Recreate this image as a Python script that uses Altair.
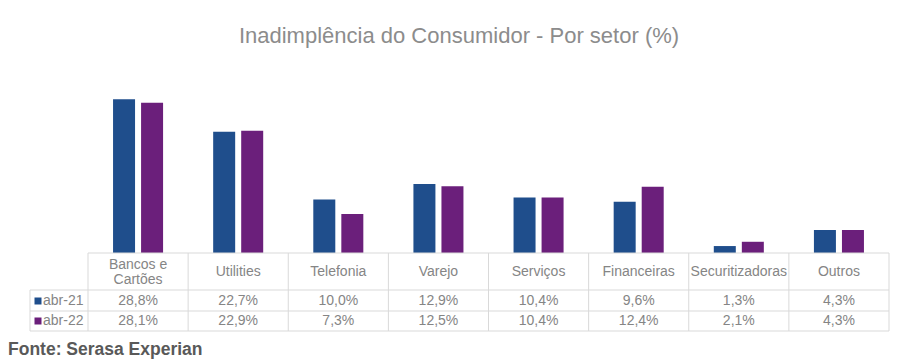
import altair as alt
import pandas as pd

categories = ["Bancos e Cartões", "Utilities", "Telefonia", "Varejo", "Serviços",
              "Financeiras", "Securitizadoras", "Outros"]
header_labels = [["Bancos e", "Cartões"], ["Utilities"], ["Telefonia"], ["Varejo"], ["Serviços"],
                 ["Financeiras"], ["Securitizadoras"], ["Outros"]]
series = ["abr-21", "abr-22"]
abr21 = [28.8, 22.7, 10.0, 12.9, 10.4, 9.6, 1.3, 4.3]
abr22 = [28.1, 22.9, 7.3, 12.5, 10.4, 12.4, 2.1, 4.3]
colors = ["#1F4E8C", "#6B1F7B"]

rows = []
for s, vals in zip(series, [abr21, abr22]):
    for c, v in zip(categories, vals):
        rows.append({"cat": c, "serie": s, "v": v,
                     "label": f"{v:.1f}".replace(".", ",") + "%"})
df = pd.DataFrame(rows)
hdr = pd.DataFrame({"cat": categories, "lab": header_labels,
                    "n": [len(h) for h in header_labels]})
ser = pd.DataFrame({"serie": series})

W, H = 888, 351
X0, X1 = 80, 881
base_y = 245
xscale = alt.Scale(domain=categories, range=[X0, X1], paddingInner=0, paddingOuter=0)
xenc = alt.X("cat:N", scale=xscale, axis=None, sort=categories)
cscale = alt.Scale(domain=series, range=colors)
FONT = "Liberation Sans"
GRAY = "#858585"
LINE = "#D9D9D9"
FS = 14

bars = alt.Chart(df).mark_bar(size=22).encode(
    x=xenc,
    xOffset=alt.XOffset("serie:N", sort=series,
                        scale=alt.Scale(paddingInner=0.214, paddingOuter=0.893)),
    y=alt.Y("v:Q", scale=alt.Scale(domain=[0, 35], range=[base_y, 58]), axis=None),
    color=alt.Color("serie:N", scale=cscale, legend=None),
)

# table grid
vlines = alt.Chart(hdr).mark_rule(color=LINE, strokeWidth=1).encode(
    x=alt.X("cat:N", scale=xscale, axis=None, sort=categories, bandPosition=0),
    y=alt.value(base_y), y2=alt.value(323))
vlast = alt.Chart(hdr.head(1)).mark_rule(color=LINE, strokeWidth=1).encode(
    x=alt.value(X1), y=alt.value(base_y), y2=alt.value(323))
vleft = alt.Chart(hdr.head(1)).mark_rule(color=LINE, strokeWidth=1).encode(
    x=alt.value(22), y=alt.value(282), y2=alt.value(323))
htop = alt.Chart(hdr.head(1)).mark_rule(color=LINE, strokeWidth=1).encode(
    x=alt.value(X0), x2=alt.value(X1), y=alt.value(base_y))
hlines = [alt.Chart(hdr.head(1)).mark_rule(color=LINE, strokeWidth=1).encode(
    x=alt.value(22), x2=alt.value(X1), y=alt.value(yy)) for yy in (282, 303, 323)]

head1 = alt.Chart(hdr[hdr.n == 1]).mark_text(
    font=FONT, fontSize=FS, color=GRAY, baseline="middle").encode(
    x=xenc, y=alt.value(264), text="lab:N")
head2 = alt.Chart(hdr[hdr.n == 2]).mark_text(
    font=FONT, fontSize=FS, color=GRAY, baseline="middle", lineBreak="\n", lineHeight=15).encode(
    x=xenc, y=alt.value(257), text="lab")

vals1 = alt.Chart(df[df.serie == "abr-21"]).mark_text(
    font=FONT, fontSize=FS, color=GRAY, baseline="middle").encode(
    x=xenc, y=alt.value(293), text="label:N")
vals2 = alt.Chart(df[df.serie == "abr-22"]).mark_text(
    font=FONT, fontSize=FS, color=GRAY, baseline="middle").encode(
    x=xenc, y=alt.value(313), text="label:N")

leg = []
for s, yy in zip(series, (293, 313)):
    leg.append(alt.Chart(ser[ser.serie == s]).mark_square(size=49, opacity=1).encode(
        x=alt.value(30), y=alt.value(yy),
        color=alt.Color("serie:N", scale=cscale, legend=None)))
    leg.append(alt.Chart(ser[ser.serie == s]).mark_text(
        font=FONT, fontSize=FS, color=GRAY, baseline="middle", align="left").encode(
        x=alt.value(35), y=alt.value(yy), text="serie:N"))

title = alt.Chart(ser.head(1)).mark_text(
    font=FONT, fontSize=22, color="#8C8C8C", baseline="middle", align="center").encode(
    x=alt.value(451), y=alt.value(28),
    text=alt.value("Inadimplência do Consumidor - Por setor (%)"))
fonte = alt.Chart(ser.head(1)).mark_text(
    font=FONT, fontSize=17.5, fontWeight="bold", color="#595959", baseline="alphabetic", align="left").encode(
    x=alt.value(0), y=alt.value(347),
    text=alt.value("Fonte: Serasa Experian"))

chart = alt.layer(
    bars, vlines, vlast, vleft, htop, *hlines, head1, head2, vals1, vals2, *leg, title, fonte
).properties(
    width=W, height=H,
    background="white",
    autosize=alt.AutoSizeParams(type="none"),
    padding={"left": 0, "top": 0, "right": 0, "bottom": 0},
).configure_view(stroke="transparent", strokeWidth=0, clip=False)

chart.save("out.html", embed_options={"renderer": "svg", "actions": False})
